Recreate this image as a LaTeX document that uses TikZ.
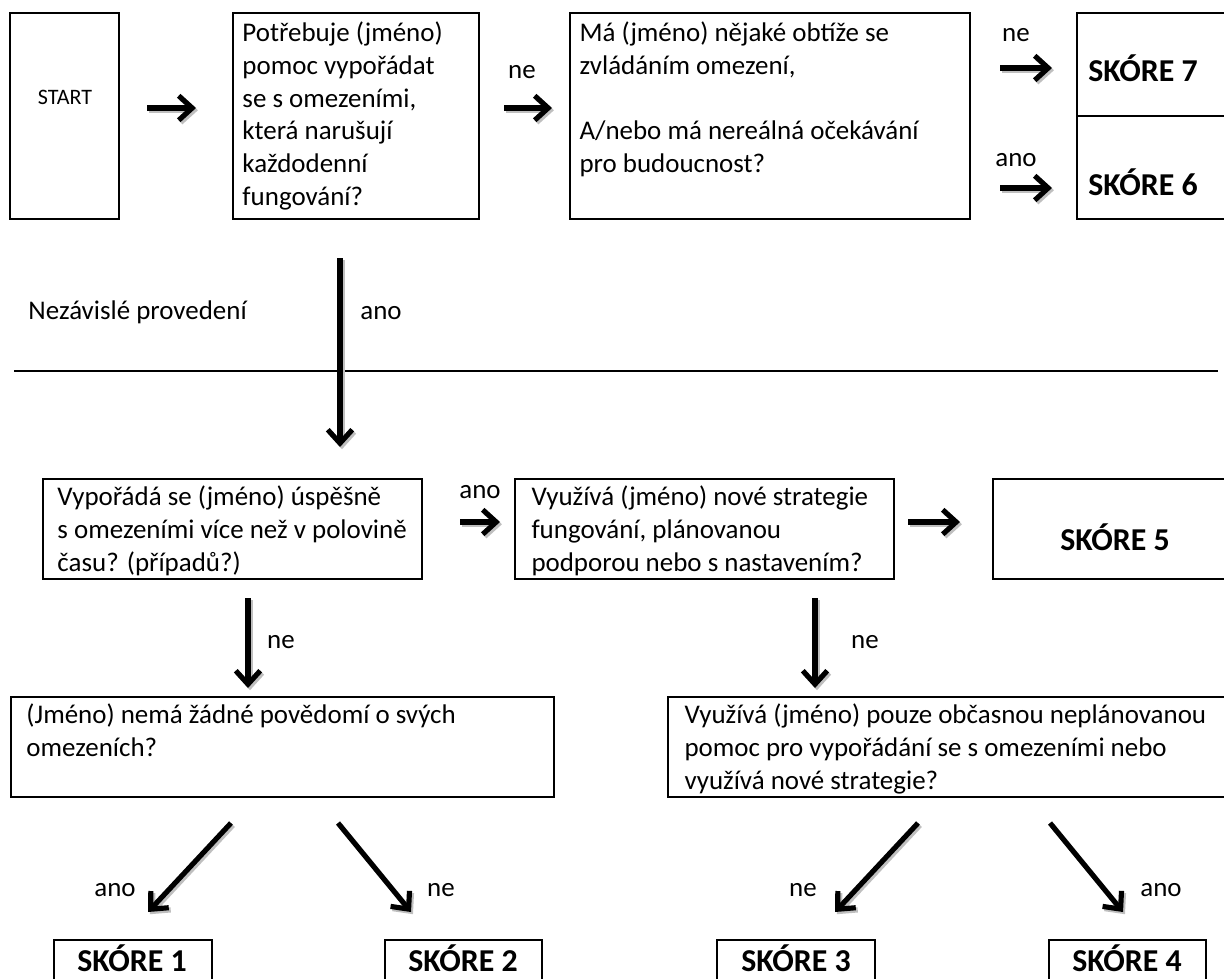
\documentclass[tikz,border=0pt]{standalone}
\usepackage{fontspec}
\setmainfont{Carlito}
\usetikzlibrary{arrows.meta,fit}
\begin{document}
\begin{tikzpicture}[x=0.4082pt,y=-0.4082pt,
  box/.style={draw, line width=0.9pt, inner sep=0pt},
  txt/.style={anchor=north west, inner sep=0pt, align=left, font=\fontsize{11pt}{13.4pt}\selectfont},
  lbl/.style={inner sep=0pt, font=\fontsize{11pt}{13.4pt}\selectfont},
  score/.style={inner sep=0pt, anchor=base, font=\fontsize{13pt}{15pt}\selectfont\bfseries},
  arr/.style={line width=2.1pt, -{Straight Barb[length=5.5pt,width=10pt]}},
  arrshadow/.style={arr, draw=black!25, transform canvas={shift={(0.8pt,-0.9pt)}}}]
\clip (0,0) rectangle (1224,978);
\fill[white] (0,0) rectangle (1224,978);

% boxes
\node[box, fit={(10,13) (119,219)}] (start) {};
\node[box, fit={(233,13) (479,219)}] (q1) {};
\node[box, fit={(570,13) (970,219)}] (q2) {};
\node[box, fit={(1077,13) (1240,116)}] (s7) {};
\node[box, fit={(1077,116) (1240,219)}] (s6) {};
\node[box, fit={(43,479) (422,579)}] (q3) {};
\node[box, fit={(515,479) (894,579)}] (q4) {};
\node[box, fit={(993,479) (1240,579)}] (s5) {};
\node[box, fit={(11,697) (554,797)}] (q5) {};
\node[box, fit={(668,697) (1240,797)}] (q6) {};
\node[box, fit={(54,940) (212,1000)}] (s1) {};
\node[box, fit={(385,940) (542,1000)}] (s2) {};
\node[box, fit={(717,940) (875,1000)}] (s3) {};
\node[box, fit={(1049,940) (1206,1000)}] (s4) {};

% texts
\node[lbl, font=\fontsize{9pt}{11pt}\selectfont] (tstart) at (65,97) {START};
\node[txt] (tq1) at (242,18) {\strut Potřebuje (jméno)\\pomoc vypořádat\\se s omezeními,\\která narušují\\každodenní\\fungování?};
\node[txt] (tq2) at (579,18) {\strut Má (jméno) nějaké obtíže se\\zvládáním omezení,\\\strut\\A/nebo má nereálná očekávání\\pro budoucnost?};
\node[score] (ts7) at (1143,82) {SKÓRE 7};
\node[score] (ts6) at (1143,195) {SKÓRE 6};
\node[txt] (tq3) at (57,482) {\strut Vypořádá se (jméno) úspěšně\\s omezeními více než v polovině\\času? (případů?)};
\node[txt] (tq4) at (531,482) {\strut Využívá (jméno) nové strategie\\fungování, plánovanou\\podporou nebo s nastavením?};
\node[score] (ts5) at (1115,550) {SKÓRE 5};
\node[txt] (tq5) at (26,700) {\strut (Jméno) nemá žádné povědomí o svých\\omezeních?};
\node[txt] (tq6) at (684,700) {\strut Využívá (jméno) pouze občasnou neplánovanou\\pomoc pro vypořádání se s omezeními nebo\\využívá nové strategie?};
\node[score] (ts1) at (132,971) {SKÓRE 1};
\node[score] (ts2) at (463,971) {SKÓRE 2};
\node[score] (ts3) at (796,971) {SKÓRE 3};
\node[score] (ts4) at (1127,971) {SKÓRE 4};

% labels
\node[lbl] (l1) at (522,72) {ne};
\node[lbl] (l2) at (1016,35) {ne};
\node[lbl] (l3) at (1016,160) {ano};
\node[lbl] (l4) at (381,313) {ano};
\node[lbl, anchor=base west] (lind) at (28,319) {Nezávislé provedení};
\node[lbl] (l5) at (480,492) {ano};
\node[lbl] (l6) at (281,642) {ne};
\node[lbl] (l7) at (865,642) {ne};
\node[lbl] (l8) at (115,890) {ano};
\node[lbl] (l9) at (441,890) {ne};
\node[lbl] (l10) at (803,890) {ne};
\node[lbl] (l11) at (1161,890) {ano};

% separator line
\coordinate (sepL) at (14,371);
\coordinate (sepR) at (1218,371);
\draw[line width=1pt] (sepL) -- (sepR);

% arrow end points
\coordinate (a1s) at (147,108);  \coordinate (a1e) at (196,108);
\coordinate (a2s) at (504,108);  \coordinate (a2e) at (552,108);
\coordinate (a3s) at (1000,68);  \coordinate (a3e) at (1052,68);
\coordinate (a4s) at (1000,188); \coordinate (a4e) at (1052,188);
\coordinate (a5s) at (340,258);  \coordinate (a5e) at (340,447);
\coordinate (a6s) at (460,522);  \coordinate (a6e) at (500,522);
\coordinate (a7s) at (908,522);  \coordinate (a7e) at (960,522);
\coordinate (a8s) at (248,598);  \coordinate (a8e) at (248,688);
\coordinate (a9s) at (815,598);  \coordinate (a9e) at (815,688);
\coordinate (a10s) at (231,823); \coordinate (a10e) at (148,912);
\coordinate (a11s) at (338,823); \coordinate (a11e) at (411,912);
\coordinate (a12s) at (918,823); \coordinate (a12e) at (835,912);
\coordinate (a13s) at (1050,823); \coordinate (a13e) at (1123,912);

\foreach \i in {1,...,13} {\draw[arrshadow] (a\i s) -- (a\i e);}
\foreach \i in {1,...,13} {\draw[arr] (a\i s) -- (a\i e);}
\end{tikzpicture}
\end{document}
